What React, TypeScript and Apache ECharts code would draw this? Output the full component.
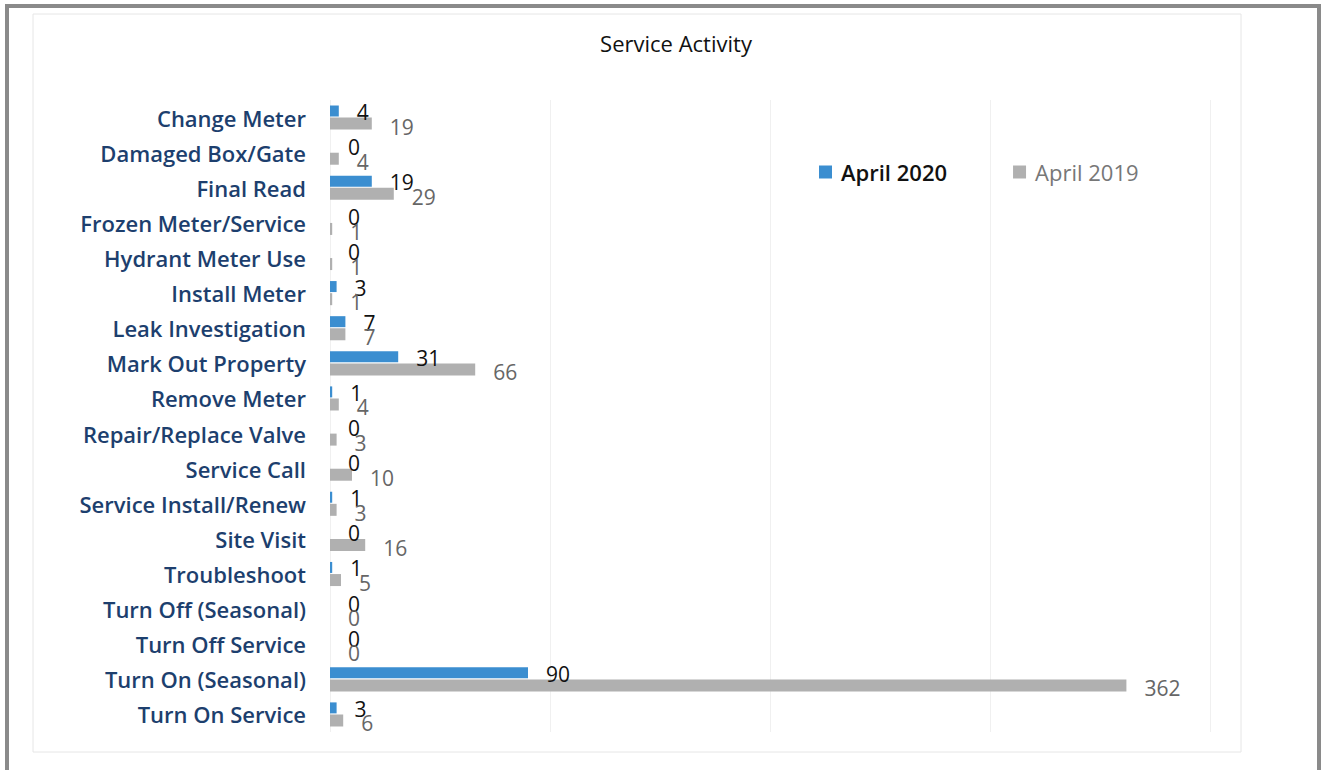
import React, { useEffect, useRef } from "react";
import * as echarts from "echarts";

const categories = [
  "Change Meter",
  "Damaged Box/Gate",
  "Final Read",
  "Frozen Meter/Service",
  "Hydrant Meter Use",
  "Install Meter",
  "Leak Investigation",
  "Mark Out Property",
  "Remove Meter",
  "Repair/Replace Valve",
  "Service Call",
  "Service Install/Renew",
  "Site Visit",
  "Troubleshoot",
  "Turn Off (Seasonal)",
  "Turn Off Service",
  "Turn On (Seasonal)",
  "Turn On Service",
];
const april2020 = [4, 0, 19, 0, 0, 3, 7, 31, 1, 0, 0, 1, 0, 1, 0, 0, 90, 3];
const april2019 = [19, 4, 29, 1, 1, 1, 7, 66, 4, 3, 10, 3, 16, 5, 0, 0, 362, 6];
const seriesNames = ["April 2020", "April 2019"];

const FONT = "'Open Sans', 'Noto Sans', sans-serif";

export default function App() {
  const ref = useRef<HTMLDivElement>(null);
  useEffect(() => {
    if (!ref.current) return;
    const chart = echarts.init(ref.current, null, { renderer: "svg" });
    chart.setOption({
      animation: false,
      backgroundColor: "#ffffff",
      title: {
        text: "Service Activity",
        left: 671,
        textAlign: "center",
        top: 27,
        textStyle: { fontFamily: FONT, fontSize: 22, fontWeight: "normal", color: "#111" },
      },
      legend: {
        top: 156,
        left: 814,
        itemWidth: 13,
        itemHeight: 13,
        itemGap: 66,
        icon: "rect",
        textStyle: { fontFamily: FONT, fontSize: 22, padding: [0, 0, 0, 4] },
        data: [
          { name: seriesNames[0], textStyle: { color: "#111", fontWeight: 600 } },
          { name: seriesNames[1], textStyle: { color: "#777", fontWeight: "normal" } },
        ],
      },
      graphic: [
        {
          type: "rect",
          shape: { x: 33, y: 14, width: 1208, height: 738 },
          style: { fill: "none", stroke: "#e6e6e6", lineWidth: 1 },
          silent: true,
        },
        {
          type: "polyline",
          shape: { points: [[7, 770], [7, 6], [1319, 6], [1319, 770]] },
          style: { fill: "none", stroke: "#8a8a8a", lineWidth: 4 },
          silent: true,
        },
      ],
      grid: { left: 330, right: 116, top: 100, bottom: 38, containLabel: false },
      xAxis: {
        type: "value",
        min: 0,
        max: 400,
        interval: 100,
        axisLabel: { show: false },
        axisLine: { show: false },
        axisTick: { show: false },
        splitLine: { show: true, lineStyle: { color: "#f0f0f0", width: 1 } },
      },
      yAxis: {
        type: "category",
        data: categories,
        inverse: true,
        axisLine: { show: false },
        axisTick: { show: false },
        axisLabel: {
          margin: 24,
          fontFamily: FONT,
          fontSize: 22,
          fontWeight: 600,
          color: "#1d3f6e",
        },
      },
      series: [
        {
          name: seriesNames[0],
          type: "bar",
          data: april2020,
          barWidth: 11,
          barGap: "10%",
          itemStyle: { color: "#3b8ed0" },
          label: {
            show: true,
            position: "right",
            distance: 18,
            fontFamily: FONT,
            fontSize: 21,
            color: "#111",
            offset: [0, 1],
          },
        },
        {
          name: seriesNames[1],
          type: "bar",
          data: april2019,
          barWidth: 12,
          itemStyle: { color: "#b0b0b0" },
          label: {
            show: true,
            position: "right",
            distance: 18,
            fontFamily: FONT,
            fontSize: 21,
            color: "#666",
            offset: [0, 3],
          },
        },
      ],
    });
    return () => chart.dispose();
  }, []);
  return (
    <div
      ref={ref}
      style={{ position: "fixed", left: 0, top: 0, width: 1326, height: 770 }}
    />
  );
}
